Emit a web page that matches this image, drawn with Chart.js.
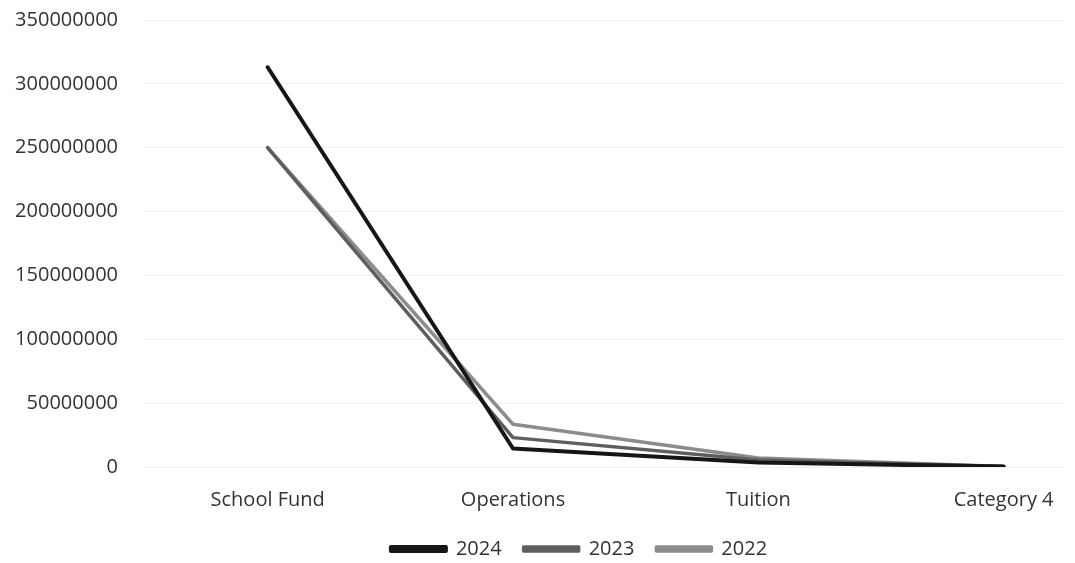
<!DOCTYPE html>
<html>
<head>
<meta charset="utf-8">
<script src="https://cdn.jsdelivr.net/npm/chart.js@4"></script>
<style>
  html, body { margin: 0; padding: 0; background: #fff; }
  #wrap { width: 1075px; height: 563px; }
</style>
</head>
<body>
<div id="wrap"><canvas id="myChart"></canvas></div>
<script>
const categories = ['School Fund', 'Operations', 'Tuition', 'Category 4'];
const years = ['2024', '2023', '2022'];
const values2024 = [313000000, 14500000, 3500000, 300000];
const values2023 = [250000000, 23000000, 5500000, 300000];
const values2022 = [250000000, 33500000, 7000000, 300000];
const yTicks = [0, 50000000, 100000000, 150000000, 200000000, 250000000, 300000000, 350000000];

const colors = ['#161616', '#5e5e5e', '#8c8c8c'];
const widths = [4, 3.5, 3.5];

// x is numeric so the categories can sit inside a cropped plot area
const toPoints = (vals) => vals.map((v, i) => ({ x: i, y: v }));

const data = {
    datasets: [values2024, values2023, values2022].map((vals, i) => ({
        label: years[i],
        data: toPoints(vals),
        borderColor: colors[i],
        backgroundColor: colors[i],
        borderWidth: widths[i],
        pointRadius: 0,
        tension: 0,
        borderCapStyle: 'round',
        borderJoinStyle: 'round'
    }))
};

const font = { family: '"Open Sans", sans-serif', size: 20 };

// nudge the legend a bit left of the plot centre
const legendShift = {
    id: 'legendShift',
    afterLayout(chart) {
        chart.legend.left -= 26;
        chart.legend.right -= 26;
    }
};

const config = {
    type: 'line',
    data: data,
    plugins: [legendShift],
    options: {
        responsive: true,
        maintainAspectRatio: false,
        animation: false,
        layout: { padding: { top: 20, right: 10, left: 0, bottom: -6 } },
        plugins: {
            tooltip: { enabled: false },
            legend: {
                position: 'bottom',
                fullSize: false,
                labels: {
                    font: font,
                    color: '#333',
                    boxWidth: 55,
                    boxHeight: 4,
                    padding: 22
                }
            }
        },
        scales: {
            x: {
                type: 'linear',
                min: -0.5,
                max: 3.25,
                grid: { display: false },
                border: { display: false },
                afterFit: (scale) => { scale.height = 50; },
                afterBuildTicks: (scale) => {
                    scale.ticks = categories.map((c, i) => ({ value: i }));
                },
                ticks: {
                    font: font,
                    color: '#333',
                    maxRotation: 0,
                    padding: 13,
                    callback: (v) => categories[v]
                }
            },
            y: {
                min: 0,
                max: 350000000,
                afterFit: (scale) => {
                    scale.width = 145;
                    scale.paddingTop = 0;
                    scale.paddingBottom = 0;
                },
                afterBuildTicks: (scale) => {
                    scale.ticks = yTicks.map(v => ({ value: v }));
                },
                grid: { color: '#f1f1f1', lineWidth: 1, drawTicks: false },
                border: { display: false },
                ticks: {
                    font: font,
                    color: '#333',
                    padding: 27,
                    callback: (v) => String(v)
                }
            }
        }
    }
};

const myChart = new Chart(document.getElementById('myChart'), config);
</script>
</body>
</html>
